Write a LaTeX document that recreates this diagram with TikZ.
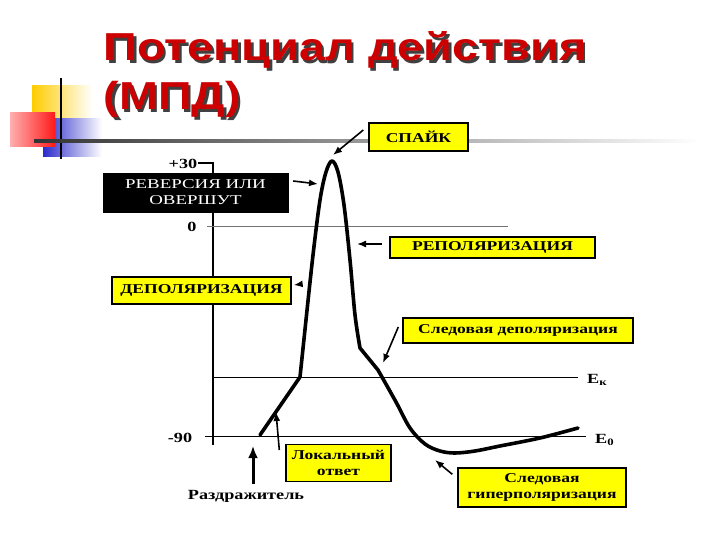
\documentclass[tikz,border=0pt]{standalone}
\usepackage{fontspec}
\setmainfont{Liberation Serif}
\newfontfamily\headfont{Liberation Sans}[FakeStretch=1.2]
\newfontfamily\tagfont{Liberation Serif}[FakeStretch=1.3]
\newfontfamily\widefont{Liberation Serif}[FakeStretch=1.4]
\usepackage{tikz}
\usetikzlibrary{arrows.meta,positioning}
\definecolor{TitleRed}{HTML}{CC0000}
\definecolor{TagYellow}{HTML}{FFFF00}
\definecolor{DecoYellow}{HTML}{FFCC00}
\definecolor{DecoRed}{HTML}{FF1A1A}
\definecolor{DecoBlue}{HTML}{2B2BCC}
\newcommand\shadowtext[1]{\makebox[0pt][l]{\hspace{2.5pt}\raisebox{-2.5pt}{\color{black!75}#1}}#1}
\tikzset{
  heading/.style={anchor=base west, text=TitleRed, font=\headfont\bfseries\fontsize{39}{39}\selectfont},
  tag/.style={draw=black, line width=1.4pt, fill=TagYellow, inner sep=0pt,
    align=center, font=\tagfont\bfseries\fontsize{13.5}{16}\selectfont},
  darktag/.style={draw=black, fill=black, text=white, inner sep=0pt,
    align=center, font=\widefont\fontsize{13.5}{16}\selectfont},
  scalelabel/.style={inner sep=0pt, font=\tagfont\bfseries\fontsize{14}{15}\selectfont},
  pointer/.style={-{Latex[length=9pt,width=7pt]}, line width=1.6pt},
  bigpointer/.style={-{Latex[length=12pt,width=10pt]}, line width=3pt},
  trace/.style={line width=3.6pt, line join=round, line cap=round},
  level/.style={line width=0.9pt},
  axisline/.style={line width=2.4pt}
}

\begin{document}
\begin{tikzpicture}[x=1pt,y=-1pt]
  \useasboundingbox (0,0) rectangle (720,540);
  % corner squares
  \shade[left color=DecoYellow, right color=white] (32,86) rectangle (92,120);
  \shade[left color=DecoBlue, right color=white] (43,119) rectangle (102,157);
  \shade[left color=DecoRed!35, right color=DecoRed] (10,113) rectangle (55,147);
  \draw[line width=2pt] (61,78) -- (61,159);
  \shade[left color=black!80, middle color=black!65, right color=white] (34,139.5) rectangle (700,142.5);

  % title
  \node[heading] (title) at (100,61) {\shadowtext{Потенциал действия}};
  \node[heading] (subtitle) at (100,110) {\shadowtext{(МПД)}};

  % axis and levels
  \draw[axisline] (198,163) -- (213,163) -- (213,445);
  \draw[level, draw=black!55] (207,226) -- (508,226);
  \draw[level] (213,377) -- (578,377);
  \draw[level] (205,436) -- (586,436);
  \node[scalelabel] (top) at (183,164) {+30};
  \node[scalelabel] (zero) at (192,227) {0};
  \node[scalelabel] (bottom) at (180,438) {-90};
  \node[scalelabel, anchor=west] (ek) at (587,380) {E\textsubscript{к}};
  \node[scalelabel, anchor=west] (ezero) at (595,440) {E\textsubscript{0}};

  % action potential
  \draw[trace] (260,435) -- (300,377)
    -- plot[smooth, tension=0.55] coordinates {(306,320) (313,255) (320,200) (326,172) (332,161)
      (338,172) (344,205) (350,260) (355,315) (360,348)}
    -- plot[smooth, tension=0.55] coordinates {(378,370) (396,402) (410,428) (425,444)
      (440,451) (455,453) (475,451) (500,446) (540,438) (578,428)};

  \coordinate (peak) at (333,155);
  \coordinate (overshoot) at (318,184);
  \coordinate (falling) at (357,244);
  \coordinate (rising) at (302,284);
  \coordinate (afterdep) at (383,363);
  \coordinate (localpt) at (276,412);
  \coordinate (stimpt) at (253,446);
  \coordinate (afterhyp) at (435,460);

  % labels
  \node[tag, minimum width=99pt, minimum height=28pt] (spike) at (418.5,137) {СПАЙК};
  \node[darktag, minimum width=185pt, minimum height=39pt] (reversal) at (195.5,192.5) {РЕВЕРСИЯ ИЛИ\\ОВЕРШУТ};
  \node[tag, minimum width=205pt, minimum height=21pt] (repol) at (492.5,247.5) {РЕПОЛЯРИЗАЦИЯ};
  \node[tag, minimum width=179pt, minimum height=27pt] (depol) at (201.5,290.5) {ДЕПОЛЯРИЗАЦИЯ};
  \node[tag, minimum width=230pt, minimum height=25pt] (tracedepol) at (518,330.5) {Следовая деполяризация};
  \node[tag, minimum width=105pt, minimum height=37pt] (localresp) at (338.5,463) {Локальный\\ответ};
  \node[tag, minimum width=168pt, minimum height=39pt] (tracehyp) at (542,487.5) {Следовая\\гиперполяризация};
  \node[scalelabel, anchor=north] (stimulus) at (246,490) {Раздражитель};

  % arrows
  \draw[pointer] ([shift={(-5,-7)}]spike.west) -- (peak);
  \draw[pointer] ([shift={(5,-11.5)}]reversal.east) -- (overshoot);
  \draw[pointer] ([shift={(-7,-3.5)}]repol.west) -- (falling);
  \draw[pointer] (rising) -- ([shift={(2,-5.5)}]depol.east);
  \draw[pointer] ([shift={(-4,-3.5)}]tracedepol.west) -- (afterdep);
  \draw[pointer] ([shift={(-6,-13)}]localresp.west) -- (localpt);
  \draw[pointer] ([shift={(-5,7)}]tracehyp.north west) -- (afterhyp);
  \draw[bigpointer] ([shift={(7,-6)}]stimulus.north) -- (stimpt);
\end{tikzpicture}
\end{document}
